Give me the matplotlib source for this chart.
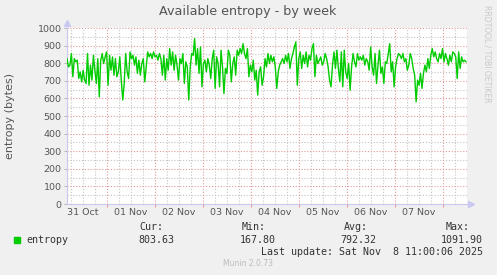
import matplotlib
matplotlib.use("Agg")
import matplotlib.pyplot as plt
import matplotlib.dates as mdates
import numpy as np
import pandas as pd

# available entropy over the week (bytes) left to right
entropy = [
    826, 779, 789, 855, 723, 826, 808, 817, 713, 751,
    694, 760, 704, 685, 855, 675, 789, 704, 845, 760,
    685, 826, 609, 817, 855, 798, 836, 864, 675, 845,
    760, 836, 732, 826, 723, 751, 836, 704, 591, 685,
    855, 751, 713, 864, 826, 845, 789, 836, 742, 817,
    732, 798, 826, 694, 779, 864, 836, 855, 826, 864,
    836, 845, 817, 855, 826, 732, 845, 704, 826, 760,
    883, 789, 864, 760, 845, 789, 704, 826, 798, 855,
    685, 808, 779, 591, 779, 855, 845, 940, 789, 883,
    742, 892, 666, 798, 817, 751, 826, 789, 713, 826,
    874, 657, 836, 798, 666, 874, 779, 628, 770, 742,
    874, 845, 694, 798, 836, 732, 874, 845, 883, 855,
    911, 855,
    826, 883, 723, 789, 751, 817, 704, 760, 619, 751,
    779, 675, 723, 826, 779, 855, 798, 845, 808, 836,
    779, 657, 751, 789, 808, 826, 798, 845, 808, 855,
    770, 826, 855, 892, 921, 675, 826, 864, 770, 845,
    798, 864, 779, 845, 817, 883, 911, 723, 845, 798,
    817, 836, 789, 808, 855, 826, 779, 704, 666, 789,
    864, 770, 874, 770, 694, 864, 666, 874, 751, 713,
    798, 647, 779, 855, 808, 779, 855, 817, 836, 817,
    845, 789, 826, 808, 760, 892, 779, 732, 855, 685,
    789, 874, 742, 779, 685, 808, 798, 855, 911, 751,
    808, 666, 779, 826, 855, 845, 826, 855, 808, 826,
    760, 789, 855, 826, 770, 732, 581, 704, 675, 742,
    657, 742, 789, 751, 826, 770, 845, 883, 836, 864,
    826, 808, 855, 826, 883, 808, 855, 826, 789, 845,
    808, 864, 855, 836, 713, 864, 770, 836, 808, 817,
    808,
]
day_labels = ["31 Oct", "01 Nov", "02 Nov", "03 Nov", "04 Nov", "05 Nov", "06 Nov", "07 Nov"]
stat_names = ["Cur:", "Min:", "Avg:", "Max:"]
stat_values = ["803.63", "167.80", "792.32", "1091.90"]

t_start = pd.Timestamp("2025-10-31 04:00")
t_end = pd.Timestamp("2025-11-08 12:00")
times = pd.date_range(t_start, "2025-11-08 11:30", periods=len(entropy))

BG = "#F0F0F0"
GREEN = "#00CC00"
MAJOR = "#E09A9A"
MINOR = "#C4C4C4"
AXIS = "#C8C8F0"
TXT = "#555555"

W, H = 497, 275
fig = plt.figure(figsize=(W / 100, H / 100), dpi=100, facecolor=BG)
ax = fig.add_axes([67 / W, 1 - 204 / H, 400 / W, 176 / H])
ax.set_facecolor("white")

# grid: minor every 6h / 50 bytes, major at midnight / 100 bytes
dots = (0, (1, 1.6))
for t in pd.date_range("2025-10-31 06:00", t_end, freq="6h"):
    if t.hour != 0:
        ax.axvline(t, color=MINOR, lw=0.8, ls=dots, zorder=1)
for y in np.arange(50, 1000, 100):
    ax.axhline(y, color=MINOR, lw=0.8, ls=dots, zorder=1)
midnights = pd.date_range("2025-11-01", "2025-11-08", freq="D")
for t in midnights:
    ax.axvline(t, color=MAJOR, lw=0.8, ls=dots, zorder=2)
for y in np.arange(100, 1001, 100):
    ax.axhline(y, color=MAJOR, lw=0.8, ls=dots, zorder=2)

ax.plot(times, entropy, color=GREEN, lw=1.0, zorder=3)

ax.set_xlim(t_start, t_end)
ax.set_ylim(0, 1000)

ax.set_yticks(np.arange(0, 1001, 100))
ax.tick_params(axis="y", length=2, width=0.6, color="#AAAAAA", labelsize=6.8,
               labelcolor=TXT, pad=2)
ax.set_xticks(midnights, [""] * len(midnights))
ax.tick_params(axis="x", which="major", length=2, width=0.6, color="#E08080")
noons = pd.date_range("2025-10-31 12:00", periods=len(day_labels), freq="D")
ax.set_xticks(noons, day_labels, minor=True)
ax.tick_params(axis="x", which="minor", length=0, labelsize=6.8, labelcolor=TXT, pad=3)

for s in ["top", "right"]:
    ax.spines[s].set_visible(False)
for s in ["left", "bottom"]:
    ax.spines[s].set_color(AXIS)
    ax.spines[s].set_linewidth(0.8)
ax.plot([1.01], [0], marker=">", color=AXIS, ms=4, transform=ax.transAxes, clip_on=False)
ax.plot([0], [1.03], marker="^", color=AXIS, ms=4, transform=ax.transAxes, clip_on=False)

ax.set_ylabel("entropy (bytes)", fontsize=8, color=TXT)
ax.yaxis.set_label_coords(-0.13, 0.5)

fig.text(248 / W, 1 - 12 / H, "Available entropy - by week", ha="center", va="center",
         fontsize=9.2, color=TXT)
fig.text(487 / W, 1 - 5 / H, "RRDTOOL / TOBI OETIKER", rotation=270, ha="center", va="top",
         fontsize=5.5, color="#C8C8C8")

mono = dict(family="DejaVu Sans Mono", fontsize=7.2, color="#333333")
fig.patches.append(plt.Rectangle((14 / W, 1 - 243 / H), 6 / W, 6 / H, color=GREEN,
                                 transform=fig.transFigure, figure=fig))
fig.text(26 / W, 1 - 240 / H, "entropy", va="center", **mono)
name_x = [163, 266, 368, 470]
value_x = [174, 276, 376, 483]
for nx, vx, n, v in zip(name_x, value_x, stat_names, stat_values):
    fig.text(nx / W, 1 - 227 / H, n, ha="right", va="center", **mono)
    fig.text(vx / W, 1 - 240 / H, v, ha="right", va="center", **mono)
fig.text(483 / W, 1 - 252 / H, "Last update: Sat Nov  8 11:00:06 2025", ha="right",
         va="center", **mono)
fig.text(248 / W, 1 - 264 / H, "Munin 2.0.73", ha="center", va="center",
         fontsize=5.5, color="#BBBBBB")

fig.savefig("out.png", dpi=100, facecolor=BG)
